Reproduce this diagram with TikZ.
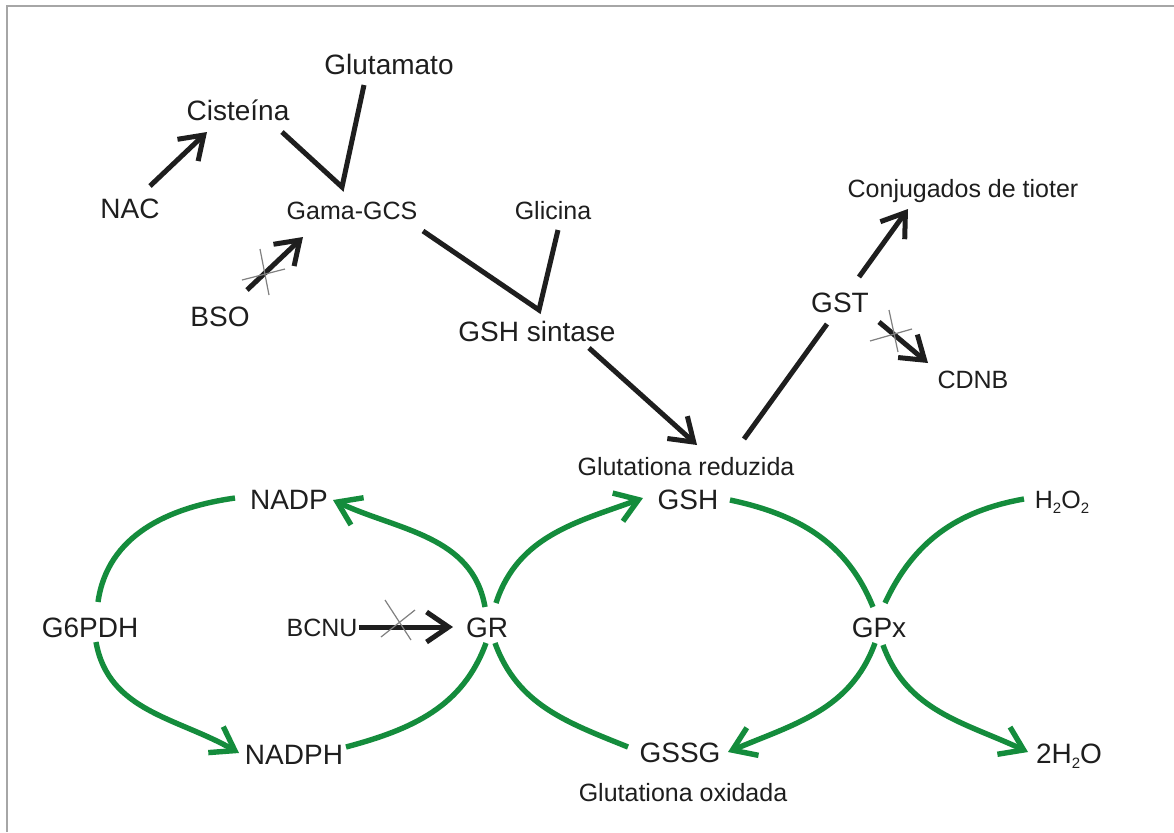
\documentclass[tikz,border=0pt]{standalone}
\usepackage{fontspec}
\setmainfont{Liberation Sans}
\usetikzlibrary{arrows.meta}
\definecolor{cyc}{RGB}{20,140,60}
\definecolor{ink}{RGB}{30,30,30}
\newcommand{\subtwo}{\raisebox{-0.2em}{\fontsize{7.5pt}{8pt}\selectfont 2}}
\begin{document}
\begin{tikzpicture}[x=0.5pt,y=-0.5pt,
  lbig/.style={inner sep=0pt, text=ink, font=\fontsize{14pt}{16pt}\selectfont, text height=10pt, text depth=0pt},
  lsmall/.style={inner sep=0pt, text=ink, font=\fontsize{12.5pt}{15pt}\selectfont, text height=9pt, text depth=0pt},
  blk/.style={draw=ink, line width=2.5pt},
  grn/.style={draw=cyc, line width=2.7pt},
  arr/.style={-{Straight Barb[length=11pt,width=15pt]}},
  xmark/.style={draw=gray, line width=0.6pt}]
\useasboundingbox (0,0) rectangle (1174,832);
\fill[white] (0,0) rectangle (1174,832);
\draw[gray!70, line width=1pt] (7,832) -- (7,6) -- (1174,6);

% labels
\node[lbig] (glu) at (389,64) {Glutamato};
\node[lbig] (cis) at (238,110) {Cisteína};
\node[lbig] (nac) at (130,208) {NAC};
\node[lsmall] (gcs) at (352,210) {Gama-GCS};
\node[lsmall] (gli) at (553,210) {Glicina};
\node[lbig] (bso) at (220,316) {BSO};
\node[lbig] (gshs) at (537,331) {GSH sintase};
\node[lsmall] (conj) at (963,188) {Conjugados de tioter};
\node[lbig] (gst) at (840,302) {GST};
\node[lsmall] (cdnb) at (973,379) {CDNB};
\node[lsmall] (gred) at (686,466) {Glutationa reduzida};
\node[lbig] (nadp) at (289,499) {NADP};
\node[lbig] (gsh) at (688,499) {GSH};
\node[lsmall] (hoo) at (1062,499) {H\subtwo O\subtwo};
\node[lbig] (gsix) at (90,627) {G6PDH};
\node[lsmall] (bcnu) at (322,627) {BCNU};
\node[lbig] (gr) at (487,627) {GR};
\node[lbig] (gpx) at (879,627) {GPx};
\node[lbig] (nadph) at (294,754) {NADPH};
\node[lbig] (gssg) at (680,752) {GSSG};
\node[lbig] (water) at (1069,753) {2H\subtwo O};
\node[lsmall] (gox) at (683,792) {Glutationa oxidada};

\coordinate (v1) at (342,187);
\coordinate (v2) at (539,310);

% black synthesis connectors
\draw[blk,arr] ([shift={(20,-22)}]nac.center) -- ([shift={(-31,22)}]cis.center);
\draw[blk] ([shift={(44,22)}]cis.center) -- (v1) -- ([shift={(-25,21)}]glu.center);
\draw[blk,arr] ([shift={(27,-26)}]bso.center) -- ([shift={(-49,27)}]gcs.center);
\draw[blk] ([shift={(71,21)}]gcs.center) -- (v2) -- ([shift={(5,20)}]gli.center);
\draw[blk,arr] ([shift={(52,17)}]gshs.center) -- ([shift={(11,-21)}]gred.center);
\draw[blk] ([shift={(58,-27)}]gred.center) -- ([shift={(-13,22)}]gst.center);
\draw[blk,arr] ([shift={(19,-25)}]gst.center) -- ([shift={(-55,21)}]conj.center);
\draw[blk,arr] ([shift={(39,20)}]gst.center) -- ([shift={(-45,-16)}]cdnb.center);
\draw[blk,arr] ([shift={(37,0)}]bcnu.center) -- ([shift={(-34,0)}]gr.center);

% inhibition crosses
\draw[xmark] (242,280) -- (285,269);
\draw[xmark] (260,249) -- (269,295);
\draw[xmark] (870,341) -- (912,329);
\draw[xmark] (889,310) -- (898,352);
\draw[xmark] (385,600) -- (411,640);
\draw[xmark] (381,637) -- (415,610);

% green cycles
\draw[grn] ([shift={(8,-25)}]gsix.center) to[out=82,in=188] ([shift={(-54,-1)}]nadp.center);
\draw[grn,arr] ([shift={(-2,-20)}]gr.center) to[out=100,in=-25] ([shift={(44,1)}]nadp.center);
\draw[grn,arr] ([shift={(6,15)}]gsix.center) to[out=-80,in=150] ([shift={(-55,-1)}]nadph.center);
\draw[grn] ([shift={(52,-7)}]nadph.center) to[out=15,in=250] ([shift={(-1,16)}]gr.center);
\draw[grn,arr] ([shift={(9,-24)}]gr.center) to[out=72,in=200] ([shift={(-45,-1)}]gsh.center);
\draw[grn] ([shift={(42,1)}]gsh.center) to[out=-12,in=112] ([shift={(-6,-20)}]gpx.center);
\draw[grn,arr] ([shift={(-4,16)}]gpx.center) to[out=250,in=23] ([shift={(48,0)}]gssg.center);
\draw[grn] ([shift={(8,16)}]gr.center) to[out=-70,in=158] ([shift={(-52,-5)}]gssg.center);
\draw[grn] ([shift={(-38,0)}]hoo.center) to[out=190,in=65] ([shift={(6,-24)}]gpx.center);
\draw[grn,arr] ([shift={(4,18)}]gpx.center) to[out=-70,in=155] ([shift={(-41,-1)}]water.center);
\end{tikzpicture}
\end{document}
